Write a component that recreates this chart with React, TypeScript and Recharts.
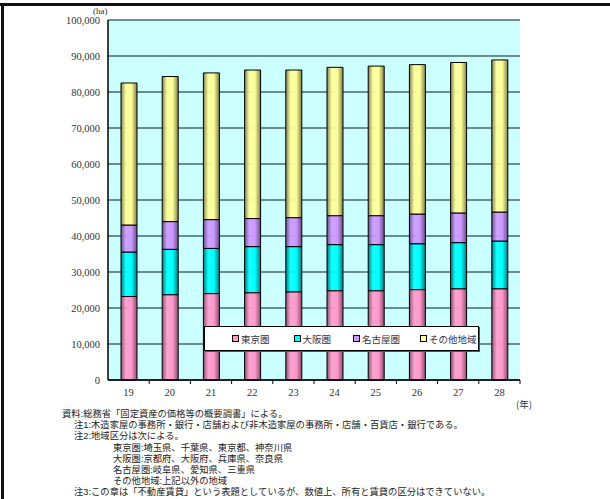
import React from "react";
import {
  BarChart,
  Bar,
  XAxis,
  YAxis,
  CartesianGrid,
} from "recharts";

const years = ["19", "20", "21", "22", "23", "24", "25", "26", "27", "28"];
const tokyo = [23200, 23700, 24000, 24250, 24500, 24800, 24800, 25100, 25350, 25350];
const osaka = [12350, 12600, 12550, 12800, 12550, 12800, 12800, 12750, 12800, 13250];
const nagoya = [7500, 7700, 8000, 7800, 8050, 8050, 8050, 8250, 8250, 8050];
const other = [39450, 40300, 40750, 41250, 41000, 41200, 41550, 41500, 41800, 42250];
const yTicks = [0, 10000, 20000, 30000, 40000, 50000, 60000, 70000, 80000, 90000, 100000];

const series = [
  { key: "tokyo", name: "東京圏", base: "#FF99CC", dark: "#8a4f6c" },
  { key: "osaka", name: "大阪圏", base: "#00FFFF", dark: "#007a7a" },
  { key: "nagoya", name: "名古屋圏", base: "#CC99FF", dark: "#6a4f8a" },
  { key: "other", name: "その他地域", base: "#FFFF99", dark: "#80804a" },
];

const data = years.map((y, i) => ({
  year: y,
  tokyo: tokyo[i],
  osaka: osaka[i],
  nagoya: nagoya[i],
  other: other[i],
}));

const serif = "'Liberation Serif', 'DejaVu Serif', 'Noto Sans CJK JP', serif";
const jp = "'Noto Sans CJK JP', sans-serif";
const notesFont = "'Liberation Sans', 'Noto Sans CJK JP', sans-serif";

const XTick = (props: any) => {
  const { x, y, payload } = props;
  const half = 20.6;
  return (
    <g>
      <line x1={x + half} y1={y - 8} x2={x + half} y2={y - 4} stroke="#000" />
      <text x={x} y={y + 8} textAnchor="middle" fontSize={10.5} fill="#333" fontFamily={serif}>
        {payload.value}
      </text>
    </g>
  );
};

const LegendBox = () => (
  <div
    style={{
      position: "absolute",
      left: 204,
      top: 326,
      width: 273,
      height: 23,
      background: "#fff",
      border: "1px solid #000",
      boxShadow: "1px 1px 0 #555",
      display: "flex",
      alignItems: "center",
      fontFamily: jp,
      fontSize: 9.5,
      color: "#334",
      whiteSpace: "nowrap",
    }}
  >
    {series.map((s, i) => (
      <div
        key={s.key}
        style={{
          display: "flex",
          alignItems: "center",
          flexShrink: 0,
          marginLeft: [27, 24, 22, 20][i],
        }}
      >
        <span
          style={{
            width: 5,
            height: 5,
            background: s.base,
            border: "1px solid #000",
            marginRight: 2,
            display: "inline-block",
          }}
        />
        {s.name}
      </div>
    ))}
  </div>
);

export default function App() {
  return (
    <div
      style={{
        position: "fixed",
        left: 0,
        top: 0,
        width: 610,
        height: 499,
        background: "#fff",
        overflow: "hidden",
      }}
    >
      <div style={{ position: "absolute", left: 0, top: 3, width: 610, height: 3, background: "#111" }} />
      <div style={{ position: "absolute", left: 1, top: 3, width: 3, height: 496, background: "#111" }} />
      <div
        style={{
          position: "absolute",
          left: 93,
          top: 6,
          fontSize: 9,
          fontFamily: serif,
          color: "#333",
        }}
      >
        (ha)
      </div>
      <div style={{ position: "absolute", left: 0, top: 0 }}>
        <BarChart
          width={610}
          height={400}
          data={data}
          margin={{ top: 20, right: 90, left: 0, bottom: 0 }}
          barSize={16}
        >
          <defs>
            {series.map((s) => (
              <linearGradient key={s.key} id={`g-${s.key}`} x1="0" y1="0" x2="1" y2="0">
                <stop offset="0%" stopColor={s.dark} />
                <stop offset="30%" stopColor={s.base} stopOpacity={0.9} />
                <stop offset="65%" stopColor={s.base} />
                <stop offset="100%" stopColor={s.dark} />
              </linearGradient>
            ))}
          </defs>
          <CartesianGrid
            vertical={false}
            stroke="#4a6868"
            strokeWidth={1.5}
            fill="#CCFFFF"
            fillOpacity={1}
          />
          <XAxis
            dataKey="year"
            tick={<XTick />}
            tickLine={false}
            axisLine={{ stroke: "#000", strokeWidth: 1.5 }}
            height={20}
            interval={0}
          />
          <YAxis
            domain={[0, 100000]}
            ticks={yTicks}
            tickFormatter={(v: number) => v.toLocaleString("en-US")}
            tick={{ fill: "#333", fontSize: 10.5, fontFamily: serif }}
            tickLine={false}
            axisLine={{ stroke: "#000", strokeWidth: 1.5 }}
            width={108}
            interval={0}
          />
          {series.map((s) => (
            <Bar
              key={s.key}
              dataKey={s.key}
              name={s.name}
              stackId="a"
              fill={`url(#g-${s.key})`}
              stroke="#000"
              strokeWidth={1}
              isAnimationActive={false}
            />
          ))}
        </BarChart>
      </div>
      <LegendBox />
      <div
        style={{
          position: "absolute",
          left: 516,
          top: 397,
          fontSize: 9.5,
          fontFamily: jp,
          color: "#333",
        }}
      >
        (年)
      </div>
      <div
        style={{
          position: "absolute",
          left: 62,
          top: 409,
          fontSize: 9.3,
          lineHeight: "11.2px",
          fontFamily: notesFont,
          color: "#222",
          whiteSpace: "pre",
        }}
      >
        <div>資料:総務省「固定資産の価格等の概要調書」による。</div>
        <div style={{ paddingLeft: 12 }}>注1:木造家屋の事務所・銀行・店舗および非木造家屋の事務所・店舗・百貨店・銀行である。</div>
        <div style={{ paddingLeft: 12 }}>注2:地域区分は次による。</div>
        <div style={{ paddingLeft: 51 }}>東京圏:埼玉県、千葉県、東京都、神奈川県</div>
        <div style={{ paddingLeft: 51 }}>大阪圏:京都府、大阪府、兵庫県、奈良県</div>
        <div style={{ paddingLeft: 51 }}>名古屋圏:岐阜県、愛知県、三重県</div>
        <div style={{ paddingLeft: 51 }}>その他地域:上記以外の地域</div>
        <div style={{ paddingLeft: 12 }}>注3:この章は「不動産賃貸」という表題としているが、数値上、所有と賃貸の区分はできていない。</div>
      </div>
    </div>
  );
}
